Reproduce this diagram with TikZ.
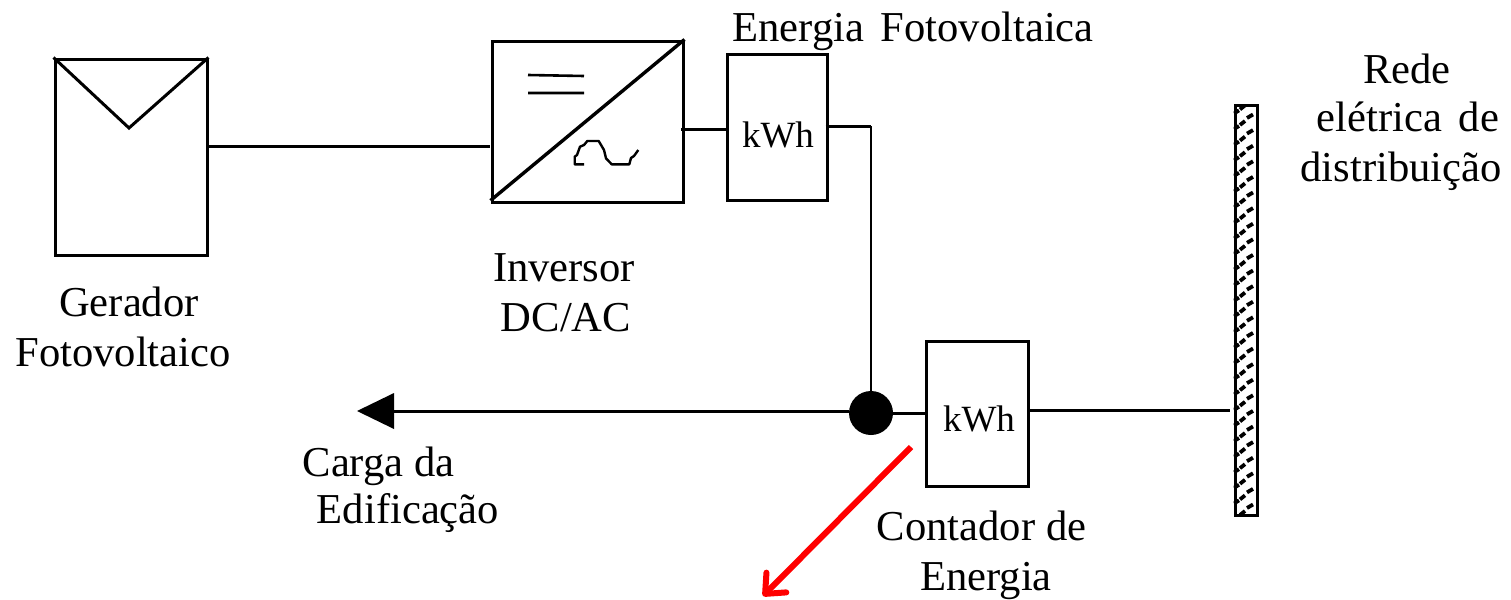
\documentclass[tikz,border=0pt]{standalone}
\usepackage{fontspec}
\setmainfont{Liberation Serif}
\usetikzlibrary{arrows.meta}
\tikzset{
  px/.style={x=0.5pt,y=-0.5pt},
  box/.style={draw=black,line width=1.5pt,minimum size=0pt,inner sep=0pt,anchor=north west},
  wire/.style={draw=black,line width=1.5pt},
  thinwire/.style={draw=black,line width=1.1pt},
  lab/.style={inner sep=0pt,anchor=base,font=\fontsize{21.3}{25}\selectfont},
  meter/.style={inner sep=0pt,anchor=base,font=\fontsize{18.5}{22}\selectfont},
  hatchmark/.style={draw=black,line width=1.9pt}
}
\begin{document}
\begin{tikzpicture}[px]
\useasboundingbox (0,0) rectangle (1511,600);
% Gerador
\node[box,minimum width=76pt,minimum height=98pt] (ger) at (53.5,57.5) {};
\coordinate (gv) at (129,128);
\draw[line width=1.5pt] (ger.north west) -- (gv) -- (ger.north east);
% Inversor
\node[box,minimum width=95.5pt,minimum height=80.5pt] (inv) at (490.5,39.5) {};
\coordinate (invl) at (490,146);
\coordinate (gerr) at (207,146);
\draw[line width=1.7pt] (inv.south west) ++(0,-3) -- (inv.north east);
\draw[line width=1.3pt] (528,75) -- (584,76) (528,93) -- (584,93);
\draw[line width=1.2pt,line join=round] (584,164.3) -- (574.7,164.3) -- (574.7,156.7) -- (577,155) -- (580,146.7) -- (584,145) -- (587.3,141) -- (598.7,141) -- (604,150) -- (606,158.3) -- (611.7,164.3) -- (629.3,164.3) -- (631,158) -- (634,156) -- (638.3,150);
% Meters
\node[box,minimum width=50pt,minimum height=73pt] (m1) at (725.5,52.5) {};
\node[box,minimum width=51pt,minimum height=72.5pt] (m2) at (924.5,339.5) {};
\node[meter] (m1t) at (778,147) {kWh};
\node[meter] (m2t) at (979,431) {kWh};
% Junction
\node[circle,fill=black,draw=none,minimum size=22pt,inner sep=0pt] (junc) at (871,413) {};
% Load arrow
\coordinate (load) at (357,411);
\coordinate (lb) at (394,411);
\fill[black] (load) -- (394,393) -- (394,429) -- cycle;
\draw[wire] (lb) -- (junc.west |- lb);
% Wires
\draw[wire] (gerr) -- (invl);
\draw[wire] (681,129) -- (725.5,129);
\draw[wire] (825.5,126) -- (871,126);
\draw[thinwire] (871,126) -- (junc.north);
\draw[wire] (junc.east) -- (m2.west |- junc.east);
% Grid bar
\node[box,minimum width=11pt,minimum height=205pt] (bar) at (1233.5,104) {};
\begin{scope}
\clip (1233.5,104) rectangle (1256,514);
\foreach \i in {-1,0,...,26}{
  \pgfmathsetmacro{\yy}{15.6*\i}
  \draw[hatchmark] (1234,{129+\yy}) -- (1239,{126+\yy});
  \draw[hatchmark] (1240,{125+\yy}) -- (1245,{121+\yy});
  \draw[hatchmark] (1247,{118+\yy}) -- (1253,{114.5+\yy});
}
\end{scope}
\draw[wire] (m2.east |- 0,410) coordinate (m2r) -- (1230,410) coordinate (barl);
% Red arrow
\coordinate (rs) at (911,447);
\coordinate (re) at (763,596);
\draw[red,line width=3pt,-{Straight Barb[length=8pt,width=14pt,round]}] (rs) -- (re);
% Labels
\node[lab] (t1) at (129,316) {Gerador};
\node[lab] (t2) at (123,366) {Fotovoltaico};
\node[lab] (t3) at (564,281) {Inversor};
\node[lab] (t4) at (566,331) {DC/AC};
\node[lab] (t5) at (913,41) {Energia\hspace{3pt} Fotovoltaica};
\node[lab] (t6) at (1407,83) {Rede};
\node[lab] (t7) at (1408,131) {elétrica\hspace{3pt} de};
\node[lab] (t8) at (1401,181) {distribuição};
\node[lab] (t9) at (378.5,476) {Carga da};
\node[lab] (t10) at (408,523) {Edificação};
\node[lab] (t11) at (981.5,540) {Contador de};
\node[lab] (t12) at (986,590) {Energia};
\end{tikzpicture}
\end{document}
